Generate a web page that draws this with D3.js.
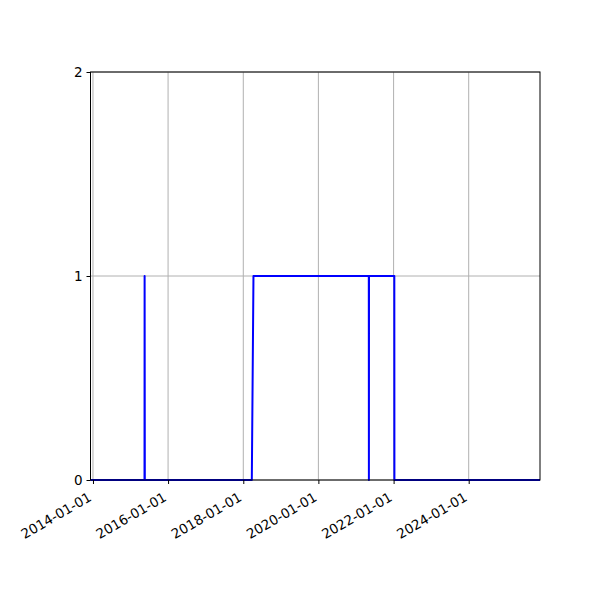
<!DOCTYPE html>
<html>
<head>
<meta charset="utf-8">
<script src="https://cdn.jsdelivr.net/npm/d3@7"></script>
<style>
  body { margin: 0; background: #fff; }
</style>
</head>
<body>
<div id="chart"></div>
<script>
// step series
const dates = ["2013-12-08", "2015-05-17", "2015-05-18", "2015-05-20",
  "2018-03-25", "2018-04-10", "2021-05-05", "2021-05-06", "2021-05-07",
  "2022-01-08", "2022-01-09", "2025-11-24"];
const values = [0, 0, 1, 0, 0, 1, 1, 0, 1, 1, 0, 0];
const yTicks = [0, 1, 2];
const xTickYears = [2014, 2016, 2018, 2020, 2022, 2024];

const width = 600, height = 600;
const margin = {top: 72, right: 60, bottom: 120, left: 90.5};
const font = "DejaVu Sans, sans-serif";

const parse = d3.utcParse("%Y-%m-%d");
const data = dates.map((d, i) => ({date: parse(d), value: values[i]}));

const x = d3.scaleUtc()
    .domain(d3.extent(data, d => d.date))
    .range([margin.left, width - margin.right]);

const y = d3.scaleLinear()
    .domain([0, 2])
    .range([height - margin.bottom, margin.top]);

const xTicks = xTickYears.map(yr => new Date(Date.UTC(yr, 0, 1)));

const svg = d3.select("#chart").append("svg")
    .attr("width", width)
    .attr("height", height);

// grid
svg.append("g")
    .attr("stroke", "#b0b0b0")
    .attr("stroke-width", 1)
  .selectAll("line")
  .data(xTicks)
  .join("line")
    .attr("x1", d => x(d)).attr("x2", d => x(d))
    .attr("y1", margin.top).attr("y2", height - margin.bottom);

svg.append("g")
    .attr("stroke", "#b0b0b0")
    .attr("stroke-width", 1)
  .selectAll("line")
  .data(yTicks)
  .join("line")
    .attr("x1", margin.left).attr("x2", width - margin.right)
    .attr("y1", d => y(d)).attr("y2", d => y(d));

// the line
svg.append("path")
    .datum(data)
    .attr("fill", "none")
    .attr("stroke", "#0000ff")
    .attr("stroke-width", 2)
    .attr("stroke-linejoin", "round")
    .attr("d", d3.line().x(d => x(d.date)).y(d => y(d.value)));

// frame
svg.append("rect")
    .attr("x", margin.left)
    .attr("y", margin.top)
    .attr("width", width - margin.right - margin.left)
    .attr("height", height - margin.bottom - margin.top)
    .attr("fill", "none")
    .attr("stroke", "#000")
    .attr("stroke-width", 1);

// x axis
const xAxis = svg.append("g")
    .attr("transform", `translate(0,${height - margin.bottom})`)
    .call(d3.axisBottom(x).tickValues(xTicks)
      .tickFormat(d3.utcFormat("%Y-%m-%d")).tickSize(4).tickPadding(4))
    .attr("font-family", font)
    .attr("font-size", 13.5);
xAxis.select(".domain").remove();
xAxis.selectAll("text")
    .attr("fill", "#000")
    .attr("text-anchor", "end")
    .attr("dy", null)
    .attr("y", null)
    .attr("transform", "translate(-1,20) rotate(-30)");

// y axis
const yAxis = svg.append("g")
    .attr("transform", `translate(${margin.left},0)`)
    .call(d3.axisLeft(y).tickValues(yTicks).tickFormat(d3.format("d"))
      .tickSize(4).tickPadding(4))
    .attr("font-family", font)
    .attr("font-size", 13.5);
yAxis.select(".domain").remove();
yAxis.selectAll("text")
    .attr("fill", "#000");
</script>
</body>
</html>
